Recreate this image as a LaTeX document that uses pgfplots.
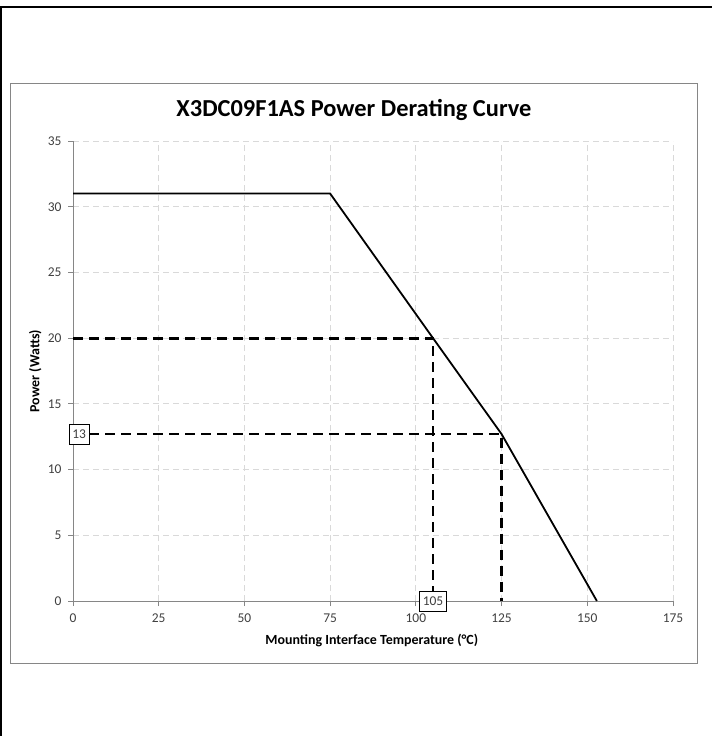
\documentclass[border=0pt]{standalone}
\usepackage{pgfplots}
\pgfplotsset{compat=1.18}
\usepackage{fontspec}
\setmainfont{Carlito}
\definecolor{axgray}{HTML}{868686}
\definecolor{gridgray}{HTML}{D9D9D9}
\definecolor{ticktext}{HTML}{404040}
\begin{document}
\begin{tikzpicture}
\path[use as bounding box] (0,0) rectangle (712bp,-736bp);
% outer page frame (top and left edges visible)
\draw[black, line width=2.5bp] (0,-7bp) -- (712bp,-7bp);
\draw[black, line width=2.5bp] (1bp,-7bp) -- (1bp,-736bp);
% chart area frame
\draw[axgray, line width=1bp] (10bp,-83bp) rectangle (697bp,-663bp);
\node[font=\bfseries\fontsize{24.5}{28}\selectfont, text=black] at (354bp,-110bp) {X3DC09F1AS Power Derating Curve};
\begin{axis}[
  at={(73bp,-601bp)}, anchor=south west,
  scale only axis, width=600bp, height=460bp,
  xmin=0, xmax=175, ymin=0, ymax=35,
  xtick={0,25,...,175}, ytick={0,5,...,35},
  axis x line*=bottom, axis y line*=left,
  axis line style={axgray, line width=0.8bp, -},
  tick style={axgray, line width=0.8bp},
  tick align=outside, major tick length=5bp,
  grid=major,
  major grid style={gridgray, dashed, line width=0.8bp, dash pattern=on 6bp off 4bp},
  ticklabel style={font=\fontsize{13.5}{15}\selectfont, text=ticktext},
  xticklabel style={yshift=-4bp},
  yticklabel style={xshift=-3bp},
  /pgf/number format/assume math mode=true,
  xlabel={Mounting Interface Temperature (\textdegree C)},
  ylabel={Power (Watts)},
  label style={font=\bfseries\fontsize{14}{16}\selectfont, text=black},
  xlabel style={at={(axis description cs:0.498,-0.085)}, anchor=center},
  ylabel style={at={(axis description cs:-0.063,0.5)}, anchor=center},
  clip=false,
]
\addplot[black, line width=1.8bp] coordinates {(0,31) (75,31) (105,20) (125,12.7) (152.8,0)};
\addplot[black, line width=2.8bp, dash pattern=on 10bp off 6bp] coordinates {(0,20) (105,20) (105,0)};
\addplot[black, line width=2.8bp, dash pattern=on 10bp off 6bp] coordinates {(0,12.7) (125,12.7) (125,0)};
\node[draw=black, fill=white, line width=0.8bp, inner sep=3bp, minimum height=20bp, font=\fontsize{13.5}{15}\selectfont, text=ticktext, anchor=west] at (axis cs:-1.2,12.7) {13};
\node[draw=black, fill=white, line width=0.8bp, inner sep=3bp, minimum height=20bp, font=\fontsize{13.5}{15}\selectfont, text=ticktext] at (axis cs:105,0) {105};
\end{axis}
\end{tikzpicture}
\end{document}
